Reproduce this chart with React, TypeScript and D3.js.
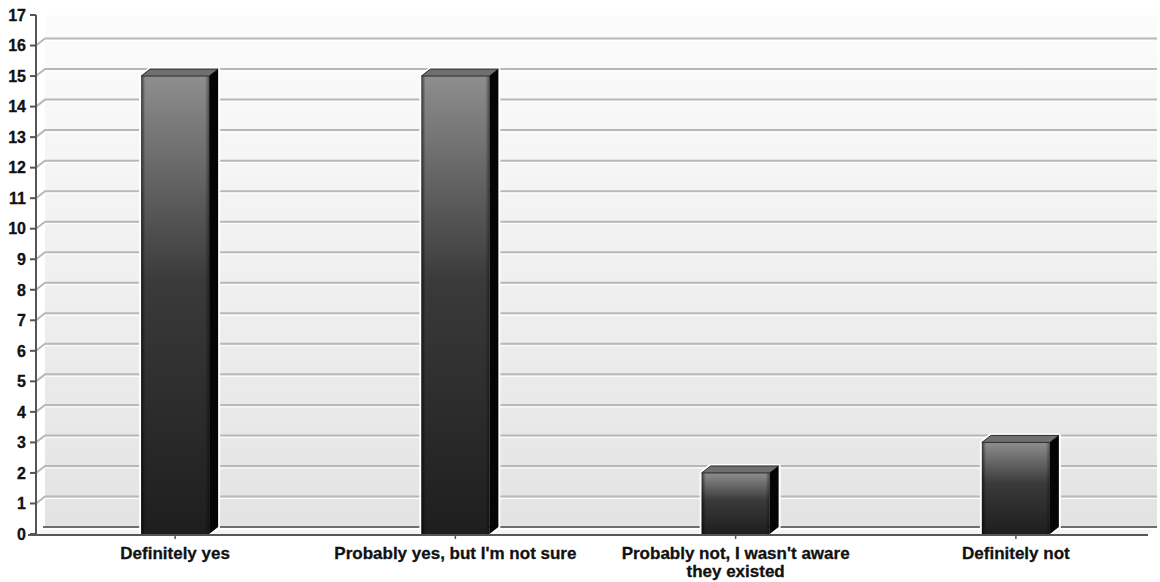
import React from 'react';
import * as d3 from 'd3';

const categories = [
  ['Definitely yes'],
  ["Probably yes, but I'm not sure"],
  ["Probably not, I wasn't aware", 'they existed'],
  ['Definitely not'],
];
const counts = [15, 15, 2, 3];
const yTicks = d3.range(0, 18);

const W = 1160;
const H = 582;
const margin = { top: 15, right: 3, bottom: 48, left: 36 };
const depthX = 9;
const depthY = -7;
const barW = 68;

const App: React.FC = () => {
  const x = d3.scaleBand<number>()
    .domain(counts.map((_, i) => i))
    .range([margin.left, W - margin.right]);

  const y = d3.scaleLinear()
    .domain([0, 17])
    .range([H - margin.bottom, margin.top]);

  const y0 = y(0);
  const right = W - margin.right;
  const font = '"Liberation Sans", Arial, sans-serif';

  return (
    <svg width={W} height={H} style={{ position: 'absolute', left: 0, top: 0, background: '#fff' }}>
      <defs>
        <linearGradient id="wall" x1="0" y1="0" x2="0" y2="1">
          <stop offset="0" stopColor="#fcfcfc" />
          <stop offset="0.5" stopColor="#f0f0f0" />
          <stop offset="1" stopColor="#e3e3e3" />
        </linearGradient>
        <linearGradient id="front" x1="0" y1="0" x2="0" y2="1">
          <stop offset="0" stopColor="#8e8e8e" />
          <stop offset="0.45" stopColor="#3a3a3a" />
          <stop offset="1" stopColor="#1e1e1e" />
        </linearGradient>
        <linearGradient id="frontEdge" x1="0" y1="0" x2="1" y2="0">
          <stop offset="0" stopColor="#000" stopOpacity="0.6" />
          <stop offset="0.06" stopColor="#000" stopOpacity="0" />
          <stop offset="0.94" stopColor="#000" stopOpacity="0" />
          <stop offset="1" stopColor="#000" stopOpacity="0.4" />
        </linearGradient>
      </defs>

      {/* back wall */}
      <rect x={margin.left + depthX} y={margin.top} width={right - margin.left - depthX}
        height={y0 + depthY - margin.top} fill="url(#wall)" />

      {/* grid lines on back wall */}
      {yTicks.filter(t => t > 0 && t < 17).map(t => (
        <g key={t}>
          <path d={`M${margin.left},${y(t)} L${margin.left + depthX},${y(t) + depthY} H${right}`}
            fill="none" stroke="#b8b8b8" strokeWidth={2} />
          <line x1={margin.left + depthX} x2={right} y1={y(t) + depthY + 2} y2={y(t) + depthY + 2}
            stroke="#fff" strokeWidth={1} />
        </g>
      ))}

      {/* floor */}
      <path d={`M${margin.left},${y0} L${margin.left + depthX},${y0 + depthY} H${right} L${right - depthX},${y0} Z`}
        fill="#f4f4f4" />
      <line x1={margin.left + depthX - 2} x2={right} y1={y0 + depthY} y2={y0 + depthY}
        stroke="#6e6e6e" strokeWidth={2} />
      <line x1={margin.left + depthX - 2} x2={right} y1={y0 + depthY + 2} y2={y0 + depthY + 2}
        stroke="#fff" strokeWidth={2} />

      {/* bars */}
      {counts.map((v, i) => {
        const cx = (x(i) ?? 0) + x.bandwidth() / 2 - 1;
        const x0 = cx - barW / 2;
        const x1 = cx + barW / 2;
        const yt = y(v);
        const outline = `M${x0},${y0} V${yt} L${x0 + depthX},${yt + depthY} H${x1 + depthX} V${y0 + depthY} L${x1},${y0} Z`;
        return (
          <g key={i}>
            <path d={outline} fill="none" stroke="#fff" strokeWidth={4} strokeLinejoin="round" />
            <rect x={x0} y={yt} width={barW} height={y0 - yt} fill="url(#front)" />
            <rect x={x0} y={yt} width={barW} height={y0 - yt} fill="url(#frontEdge)" />
            <path d={`M${x0},${yt} L${x0 + depthX},${yt + depthY} H${x1 + depthX} L${x1},${yt} Z`}
              fill="#6f6f6f" stroke="#2a2a2a" strokeWidth={1} />
            <path d={`M${x1},${yt} L${x1 + depthX},${yt + depthY} V${y0 + depthY} L${x1},${y0} Z`}
              fill="#050505" />
          </g>
        );
      })}

      {/* axes */}
      <line x1={margin.left} x2={margin.left} y1={margin.top} y2={y0} stroke="#555" strokeWidth={2} />
      <line x1={margin.left - 8} x2={right - depthX} y1={y0 + 1} y2={y0 + 1} stroke="#555" strokeWidth={2} />

      {yTicks.map(t => (
        <g key={t} transform={`translate(${margin.left},${y(t)})`}>
          <line x1={-6} x2={0} stroke="#555" strokeWidth={2} />
          <text x={-10} dy="0.36em" textAnchor="end" fontFamily={font} fontWeight="bold"
            fontSize={16} fill="#111" stroke="#111" strokeWidth={0.3}>{t}</text>
        </g>
      ))}

      {categories.map((lines, i) => {
        const cx = (x(i) ?? 0) + x.bandwidth() / 2 - 1;
        return (
          <g key={i}>
            <line x1={cx} x2={cx} y1={y0 + 1} y2={y0 + 5} stroke="#555" strokeWidth={1.5} />
            <text x={cx} y={559} textAnchor="middle" fontFamily={font} fontWeight="bold"
              fontSize={17} fill="#111" stroke="#111" strokeWidth={0.3}>
              {lines.map((l, j) => (
                <tspan key={j} x={cx} dy={j === 0 ? 0 : 18}>{l}</tspan>
              ))}
            </text>
          </g>
        );
      })}
    </svg>
  );
};

export default App;
